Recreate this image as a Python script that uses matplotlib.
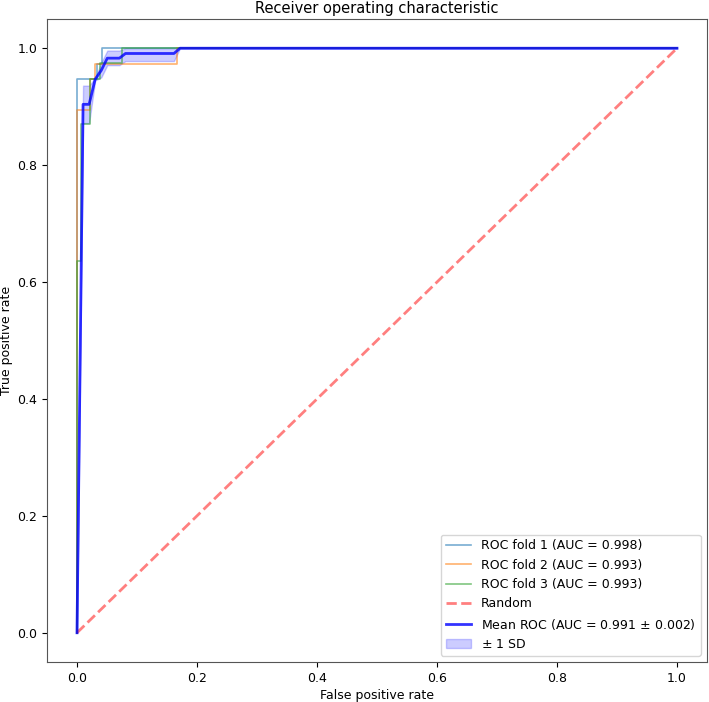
import matplotlib
matplotlib.use("Agg")
import matplotlib.pyplot as plt

# ROC curves per fold
fold1_fpr = [0.0, 0.0, 0.0, 0.033, 0.033, 0.042, 0.042, 1.0]
fold1_tpr = [0.0, 0.0, 0.947, 0.947, 0.973, 0.973, 1.0, 1.0]
fold2_fpr = [0.0, 0.0, 0.021, 0.021, 0.030, 0.030, 0.167, 0.167, 1.0]
fold2_tpr = [0.0, 0.895, 0.895, 0.947, 0.947, 0.973, 0.973, 1.0, 1.0]
fold3_fpr = [0.0, 0.0, 0.007, 0.007, 0.022, 0.022, 0.038, 0.038, 0.075, 0.075, 1.0]
fold3_tpr = [0.0, 0.636, 0.636, 0.870, 0.870, 0.947, 0.947, 0.975, 0.975, 1.0, 1.0]
fold_auc = [0.998, 0.993, 0.993]

# mean ROC and +/- 1 SD band
mean_fpr = [0.0, 0.0101, 0.0202, 0.0303, 0.0404, 0.0505, 0.0707, 0.0808, 0.1616, 0.1717, 1.0]
mean_tpr = [0.0, 0.904, 0.904, 0.947, 0.962, 0.983, 0.983, 0.991, 0.991, 1.0, 1.0]
sd_lower = [0.0, 0.872, 0.872, 0.945, 0.950, 0.971, 0.971, 0.978, 0.978, 1.0, 1.0]
sd_upper = [0.0, 0.936, 0.936, 0.949, 0.975, 0.996, 0.996, 1.0, 1.0, 1.0, 1.0]
mean_auc = 0.991
std_auc = 0.002

fig = plt.figure(figsize=(7.09, 7.02), dpi=100)
ax = fig.add_axes([47 / 709, 40 / 702, 660 / 709, 643 / 702])

folds = [(fold1_fpr, fold1_tpr), (fold2_fpr, fold2_tpr), (fold3_fpr, fold3_tpr)]
for i, (f, t) in enumerate(folds):
    ax.plot(f, t, lw=1.2, alpha=0.6, label=f'ROC fold {i + 1} (AUC = {fold_auc[i]:.3f})')

ax.plot([0, 1], [0, 1], linestyle='--', lw=2, color='r', alpha=0.5, label='Random')
ax.plot(mean_fpr, mean_tpr, color='b', lw=2, alpha=0.8,
        label=f'Mean ROC (AUC = {mean_auc:.3f} $\\pm$ {std_auc:.3f})')
ax.fill_between(mean_fpr, sd_lower, sd_upper, color='b', alpha=0.2, label='$\\pm$ 1 SD')

ax.set_xlim(-0.05, 1.05)
ax.set_ylim(-0.05, 1.05)
ax.set_xlabel('False positive rate', fontsize=9, labelpad=3)
ax.set_ylabel('True positive rate', fontsize=9, labelpad=3)
ax.set_title('Receiver operating characteristic', fontsize=10.5, pad=4)
ax.tick_params(labelsize=9)
for s in ax.spines.values():
    s.set_color('#555555')
ax.legend(loc='lower right', fontsize=9)

fig.savefig('out.png', dpi=100)
